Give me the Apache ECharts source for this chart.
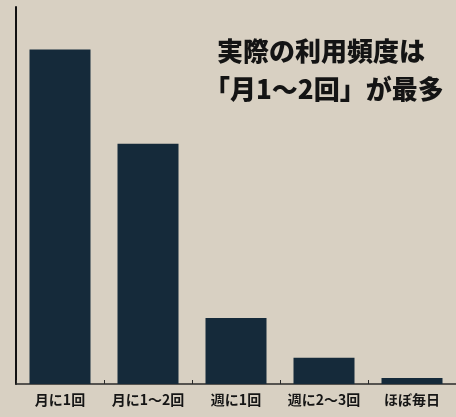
<!DOCTYPE html>
<html><head><meta charset="utf-8">
<script src="https://cdn.jsdelivr.net/npm/echarts@6/dist/echarts.min.js"></script>
<style>html,body{margin:0;padding:0;background:#d8d0c2;}#c{width:456px;height:417px;}</style>
</head><body><div id="c"></div>
<script>
const categories = ['月に1回', '月に1～2回', '週に1回', '週に2～3回', 'ほぼ毎日'];
const values = [49.7, 35.7, 9.8, 3.9, 0.9];
const titleLines = ['実際の利用頻度は', '「月1～2回」が最多'];

const titleFont = { fontFamily: 'Noto Sans CJK JP', fontWeight: 900, fontSize: 26, fill: '#141414' };
const chart = echarts.init(document.getElementById('c'));
chart.setOption({
  backgroundColor: '#d8d0c2',
  animation: false,
  graphic: [
    { type: 'text', left: 217, top: 38, style: Object.assign({ text: titleLines[0] }, titleFont) },
    { type: 'text', left: 204, top: 76, style: Object.assign({ text: titleLines[1] }, titleFont) }
  ],
  grid: { left: 16, top: 7, width: 447, height: 377 },
  xAxis: {
    type: 'category', data: categories,
    axisLine: { lineStyle: { color: '#2a2a2a', width: 1.5 } },
    axisTick: { show: true, inside: true, interval: 0, length: 4, lineStyle: { color: '#2a2a2a' } },
    axisLabel: { interval: 0, hideOverlap: false, color: '#151515', fontFamily: 'Noto Sans CJK JP', fontWeight: 'bold', fontSize: 14, margin: 9 }
  },
  yAxis: {
    type: 'value', min: 0, max: 56,
    axisLine: { show: true, lineStyle: { color: '#111', width: 2 } },
    axisTick: { show: false }, axisLabel: { show: false }, splitLine: { show: false }
  },
  series: [{
    type: 'bar', data: values, barWidth: 61,
    itemStyle: { color: '#152a3a' }
  }]
});
</script></body></html>
